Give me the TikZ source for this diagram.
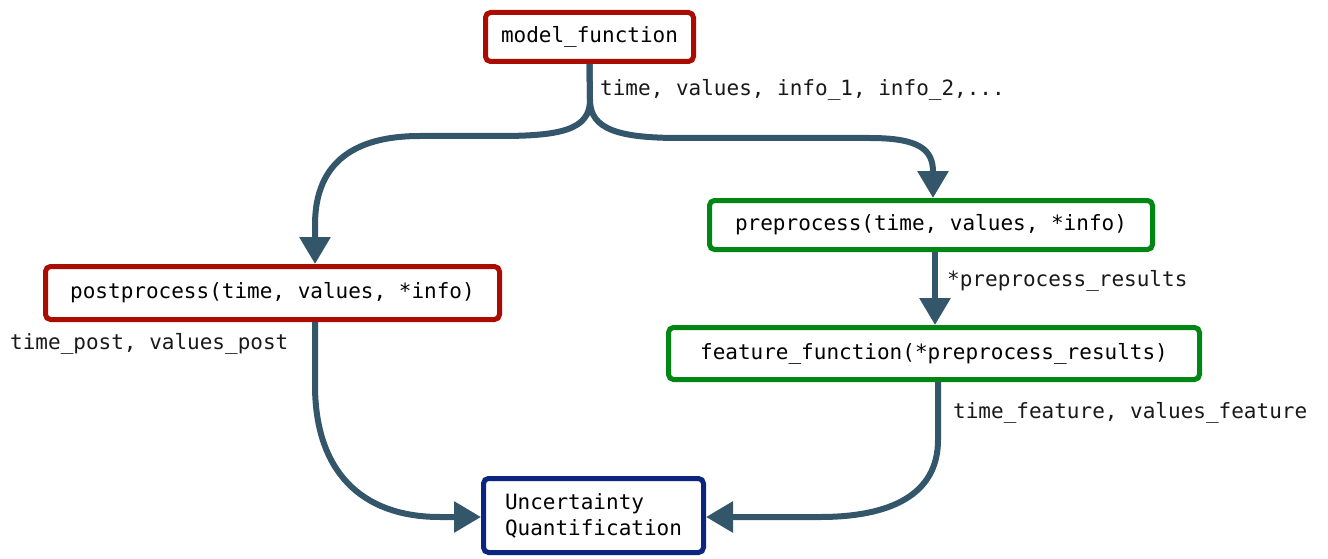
\documentclass[tikz,border=0pt]{standalone}
\usepackage{fontspec}
\setmonofont{DejaVu Sans Mono}
\usetikzlibrary{arrows.meta}
\definecolor{cred}{RGB}{170,12,2}
\definecolor{cgreen}{RGB}{0,134,18}
\definecolor{cblue}{RGB}{12,38,128}
\definecolor{conn}{RGB}{52,86,107}
\begin{document}
\begin{tikzpicture}[x=1pt,y=-1pt,
  font=\ttfamily\fontsize{21}{26}\selectfont,
  box/.style={draw, line width=5pt, rounded corners=5pt, fill=white, inner sep=0pt},
  redbox/.style={box, draw=cred},
  greenbox/.style={box, draw=cgreen},
  bluebox/.style={box, draw=cblue},
  arr/.style={draw=conn, line width=6pt, -{Triangle[width=30pt,length=27pt]}},
  lbl/.style={anchor=base west, inner sep=0pt, text=black!90}]
\useasboundingbox (0,0) rectangle (1328,559);
\node[redbox, minimum width=208pt, minimum height=49pt] (mf) at (589.5,37) {model\_function};
\node[greenbox, minimum width=443pt, minimum height=49pt] (pre) at (931,225) {preprocess(time, values, *info)};
\node[redbox, minimum width=454pt, minimum height=53pt] (pp) at (272.5,293) {postprocess(time, values, *info)};
\node[greenbox, minimum width=531pt, minimum height=52pt] (feat) at (934,353.5) {feature\_function(*preprocess\_results)};
\node[bluebox, minimum width=220pt, minimum height=74pt, align=left] (uq) at (593.5,515.5) {Uncertainty\\Quantification};

\draw[arr] (mf.south) -- (590,100) .. controls (590,130) and (560,136) .. (500,136) -- (420,136) .. controls (340,136) and (315,175) .. (315,225) -- (315,0 |- pp.north);
\draw[arr] (mf.south) -- (590,100) .. controls (590,130) and (620,138) .. (680,138) -- (870,138) .. controls (920,138) and (933,150) .. (933,172) -- (933,0 |- pre.north);
\draw[arr] (935,0 |- pre.south) -- (935,0 |- feat.north);
\draw[arr] (315,0 |- pp.south) -- (315,385) .. controls (315,470) and (360,517) .. (440,517) -- (uq.west |- 0,517);
\draw[arr] (938,0 |- feat.south) -- (938,440) .. controls (938,495) and (890,517) .. (820,517) -- (uq.east |- 0,517);

\node[lbl] (l1) at (600,96) {time, values, info\_1, info\_2,...};
\node[lbl] (l2) at (947,286) {*preprocess\_results};
\node[lbl] (l3) at (10,349) {time\_post, values\_post};
\node[lbl] (l4) at (953,418) {time\_feature, values\_feature};
\end{tikzpicture}
\end{document}
